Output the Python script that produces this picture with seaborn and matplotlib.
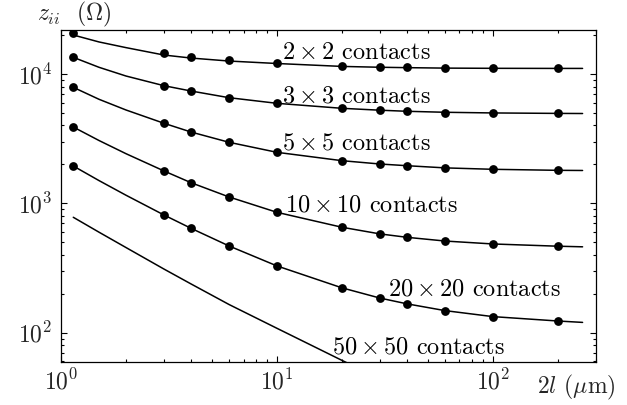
import numpy as np
import pandas as pd
import matplotlib
matplotlib.use("Agg")
import matplotlib.pyplot as plt
import seaborn as sns

# Contact impedance z_ii versus spacing 2l for square contact arrays
x_line = [1.14, 1.5, 2, 3, 4, 6, 10, 20, 30, 40, 60, 100, 200, 260]
line_2x2 = [20030, 17700, 16000, 14020, 13290, 12600, 12060, 11450, 11280, 11200, 11110, 11070, 11050, 11050]
line_3x3 = [13460, 11270, 9650, 8120, 7390, 6560, 5935, 5430, 5250, 5150, 5060, 5000, 4960, 4950]
line_5x5 = [7890, 6375, 5270, 4158, 3560, 2965, 2480, 2137, 2014, 1954, 1880, 1833, 1800, 1795]
line_10x10 = [3892, 3060, 2420, 1779, 1444, 1120, 852, 653, 580, 546, 511, 485, 466, 461]
line_20x20 = [1944, 1499, 1155, 812, 641, 468, 328, 222, 185, 167, 148, 133, 123, 120]

x_line_50 = [1.14, 1.5, 2, 3, 4, 6, 10, 13, 20, 25]
line_50x50 = [780, 598, 455, 310, 238, 165, 108, 87, 61, 51]

# Simulated points
x_dots = [1.14, 3, 4, 6, 10, 20, 30, 40, 60, 100, 200]
dots_2x2 = [20860, 14610, 13600, 12830, 12230, 11530, 11330, 11270, 11130, 11070, 11070]
dots_3x3 = [13460, 8120, 7390, 6560, 5935, 5430, 5240, 5175, 5020, 4995, 4970]
dots_5x5 = [7890, 4158, 3560, 2965, 2480, 2137, 2014, 1954, 1876, 1833, 1800]
dots_10x10 = [3892, 1779, 1444, 1120, 852, 653, 580, 546, 511, 485, 466]
dots_20x20 = [1944, 812, 641, 468, 328, 222, 185, 167, 148, 133, 123]

labels = [r"$2\times2$ contacts", r"$3\times3$ contacts", r"$5\times5$ contacts",
          r"$10\times10$ contacts", r"$20\times20$ contacts", r"$50\times50$ contacts"]
label_x = [10.6, 10.6, 10.6, 10.9, 32.6, 18.0]
label_y = [13000, 5970, 2585, 857, 195, 69.5]

sns.set_theme(style="ticks")
plt.rcParams["font.family"] = "serif"
plt.rcParams["font.serif"] = ["cmr10"]
plt.rcParams["mathtext.fontset"] = "cm"
plt.rcParams["axes.formatter.use_mathtext"] = True
plt.rcParams["axes.unicode_minus"] = False

line_sets = [(x_line, line_2x2, "2x2"), (x_line, line_3x3, "3x3"), (x_line, line_5x5, "5x5"),
             (x_line, line_10x10, "10x10"), (x_line, line_20x20, "20x20"),
             (x_line_50, line_50x50, "50x50")]
lines_df = pd.concat([pd.DataFrame({"x": xs, "z": ys, "array": name})
                      for xs, ys, name in line_sets], ignore_index=True)

dot_sets = [(dots_2x2, "2x2"), (dots_3x3, "3x3"), (dots_5x5, "5x5"),
            (dots_10x10, "10x10"), (dots_20x20, "20x20")]
dots_df = pd.concat([pd.DataFrame({"x": x_dots, "z": ys, "array": name})
                     for ys, name in dot_sets], ignore_index=True)

fig = plt.figure(figsize=(6.27, 4.05), dpi=100)
ax = fig.add_axes([61 / 627, 1 - 361.7 / 405, (596 - 61) / 627, (361.7 - 30) / 405])

sns.lineplot(data=lines_df, x="x", y="z", units="array", estimator=None,
             color="black", linewidth=1.1, ax=ax, legend=False)
sns.scatterplot(data=dots_df, x="x", y="z", color="black", s=40,
                linewidth=0, ax=ax, legend=False, zorder=3)

ax.set_xscale("log")
ax.set_yscale("log")
ax.set_xlim(1, 300)
ax.set_ylim(59.6, 21900)
ax.set_xlabel("")
ax.set_ylabel("")

for txt, tx, ty in zip(labels, label_x, label_y):
    ax.text(tx, ty, txt, fontsize=17.5, ha="left", va="baseline", color="black")

ax.tick_params(which="both", direction="in", top=True, right=True,
               color="black", width=0.8, labelsize=17)
ax.tick_params(which="major", length=4.5, pad=6)
ax.tick_params(which="minor", length=2.5)
ax.tick_params(axis="x", which="major", pad=5)
for sp in ax.spines.values():
    sp.set_color("black")
    sp.set_linewidth(0.9)

fig.text(37 / 627, 1 - 20.5 / 405, r"$z_{ii}$  $(\Omega)$", fontsize=17,
         ha="left", va="baseline")
fig.text(537 / 627, 1 - 393 / 405, r"$2l$ $(\mu\mathrm{m})$", fontsize=17,
         ha="left", va="baseline")

fig.savefig("out.png", dpi=100, facecolor="white")
